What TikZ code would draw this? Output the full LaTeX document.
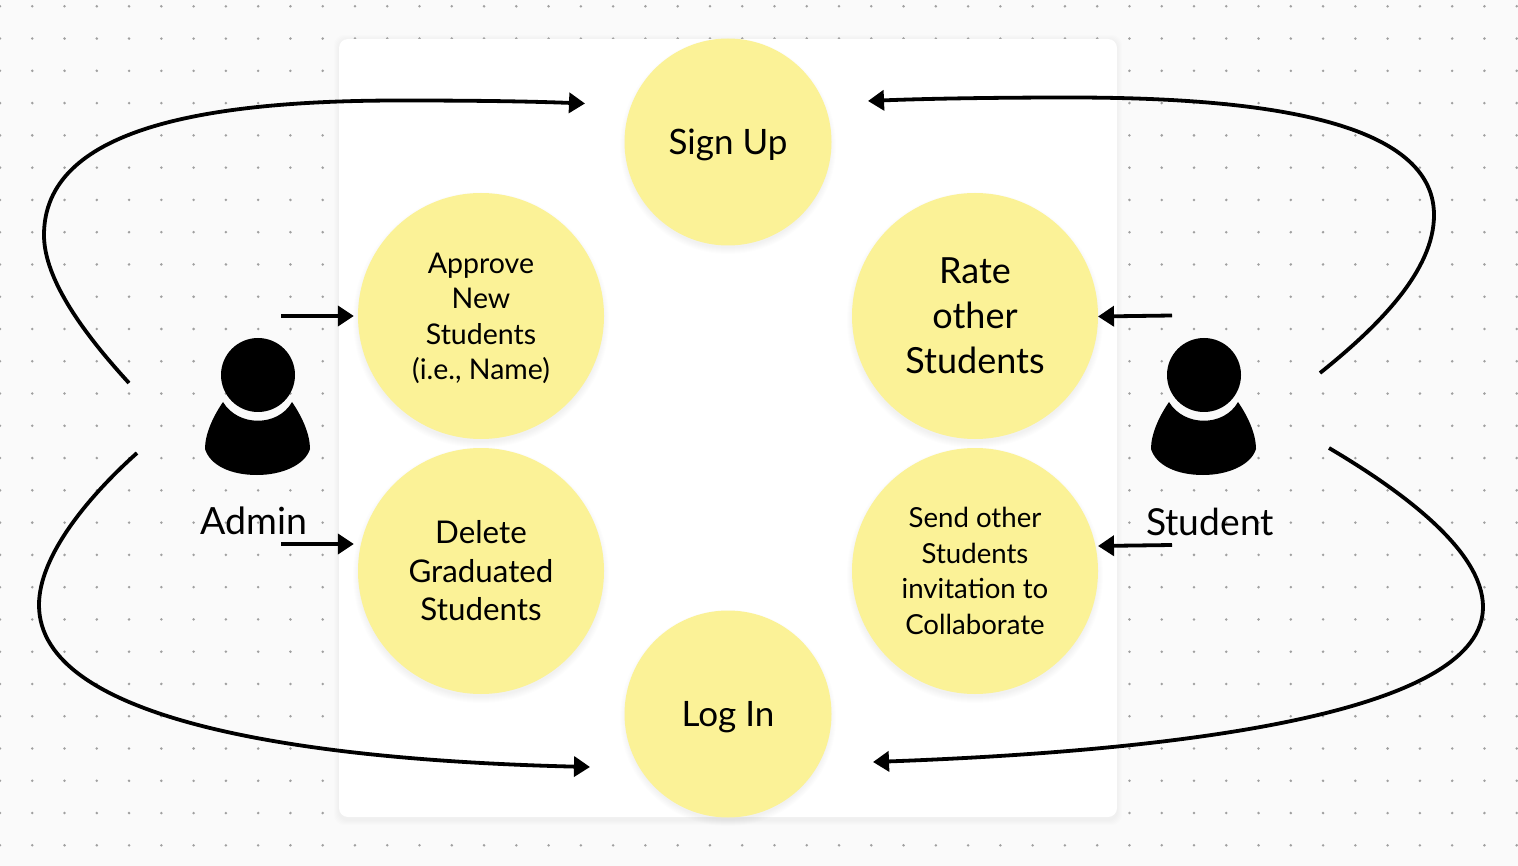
\documentclass[tikz,border=0pt]{standalone}
\usepackage{fontspec}
\setmainfont{Lato}
\usetikzlibrary{arrows.meta}
\definecolor{bgc}{HTML}{FAFAFA}
\definecolor{dotc}{HTML}{A0A0A0}
\definecolor{yel}{HTML}{FBF297}
\tikzset{
  flow/.style={line width=3.8pt,draw=black,-{Triangle[length=16pt,width=20pt]}},
  bubble/.style={circle,fill=yel,inner sep=0pt,align=center,text=black},
  lbl/.style={inner sep=0pt,text=black},
  pics/persona/.style={code={
    \fill[black] (0,0) circle (37);
    \fill[black] (-35,27) .. controls (-20,52) and (20,52) .. (34,27)
      .. controls (45,43) and (52,60) .. (52,74)
      .. controls (47,90) and (24,100) .. (-1,100)
      .. controls (-28,100) and (-48,90) .. (-53,74)
      .. controls (-53,60) and (-46,43) .. (-35,27) -- cycle;
  }}
}
\begin{document}
\begin{tikzpicture}[x=1pt,y=-1pt]
\useasboundingbox (0,0) rectangle (1518,866);
\fill[bgc] (0,0) rectangle (1518,866);
% dot grid
\foreach \i in {0,...,47}{\foreach \j in {0,...,26}{
  \fill[dotc] ({32.27*\i},{6.3+32.27*\j}) circle (1.4);
}}
% panel shadow and panel
\foreach \g in {1,...,5}{
  \fill[black,opacity=0.006,rounded corners=10pt] (339-\g,39+1-\g) rectangle (1117+\g,817+3+\g);
}
\fill[white,rounded corners=9pt] (339,39) rectangle (1117,817);
% bubble shadows
\foreach \cx/\cy/\r in {728/142/103,728/714/103,481/316/123,975/316/123,481/571/123,975/571/123}{
  \foreach \g in {0,...,6}{
    \fill[black,opacity=0.009] (\cx,\cy+4) circle ({\r+\g-1});
  }
}
% bubbles
\node[bubble,minimum size=207pt,text depth=0pt,font=\fontsize{35}{38}\selectfont] (signup) at (728,142) {Sign Up};
\node[bubble,minimum size=207pt,text depth=0pt,font=\fontsize{35}{38}\selectfont] (login) at (728,714) {Log In};
\node[bubble,minimum size=246pt,font=\fontsize{28.5}{35.6}\selectfont] (approve) at (481,316) {\rule{0pt}{25pt}Approve\\New\\Students\\(i.e., Name)};
\node[bubble,minimum size=246pt,font=\fontsize{36}{45}\selectfont] (rate) at (975,316) {Rate\\other\\Students};
\node[bubble,minimum size=246pt,font=\fontsize{31.3}{38.5}\selectfont] (delete) at (481,571) {Delete\\Graduated\\Students};
\node[bubble,minimum size=246pt,font=\fontsize{27.6}{35.6}\selectfont] (send) at (975,571) {Send other\\Students\\invitation to\\Collaborate};
% actors
\pic (adminicon) at (258,375) {persona};
\pic (studenticon) at (1204,375) {persona};
\node[lbl,font=\fontsize{37.5}{40}\selectfont] (adminlabel) at (254,521) {Admin};
\node[lbl,font=\fontsize{37.2}{40}\selectfont] (studentlabel) at (1210,522) {Student};
% free ends
\coordinate (a1) at (281,316);
\coordinate (a2) at (281,544);
\coordinate (s1) at (1172,315.5);
\coordinate (s2) at (1172,545);
\coordinate (atopstart) at (129,383);
\coordinate (atopend) at (585,103.5);
\coordinate (abotstart) at (137,453);
\coordinate (abotend) at (590,767);
\coordinate (stopstart) at (1320,373);
\coordinate (stopend) at (868,101);
\coordinate (sbotstart) at (1329,448);
\coordinate (sbotend) at (873,762);
% short arrows
\draw[flow,shorten >=4pt] (a1) -- (a1 -| approve.west);
\draw[flow,shorten >=4pt] (a2) -- (a2 -| delete.west);
\draw[flow] (s1) -- (1098,316.5);
\draw[flow] (s2) -- (1098,546);
% long curves
\draw[flow] (atopstart) .. controls (85,335) and (44,280) .. (44,235)
  .. controls (44,130) and (200,100.5) .. (400,100.5)
  .. controls (460,100.5) and (520,101) .. (atopend);
\draw[flow] (abotstart) .. controls (90,495) and (39,555) .. (39,605)
  .. controls (39,720) and (300,760) .. (abotend);
\draw[flow] (stopstart) .. controls (1380,325) and (1434,270) .. (1434,215)
  .. controls (1434,115) and (1240,97.5) .. (1070,97.5)
  .. controls (1000,97.5) and (930,98.5) .. (stopend);
\draw[flow] (sbotstart) .. controls (1400,490) and (1483,550) .. (1483,607)
  .. controls (1483,710) and (1200,750) .. (sbotend);
\end{tikzpicture}
\end{document}
